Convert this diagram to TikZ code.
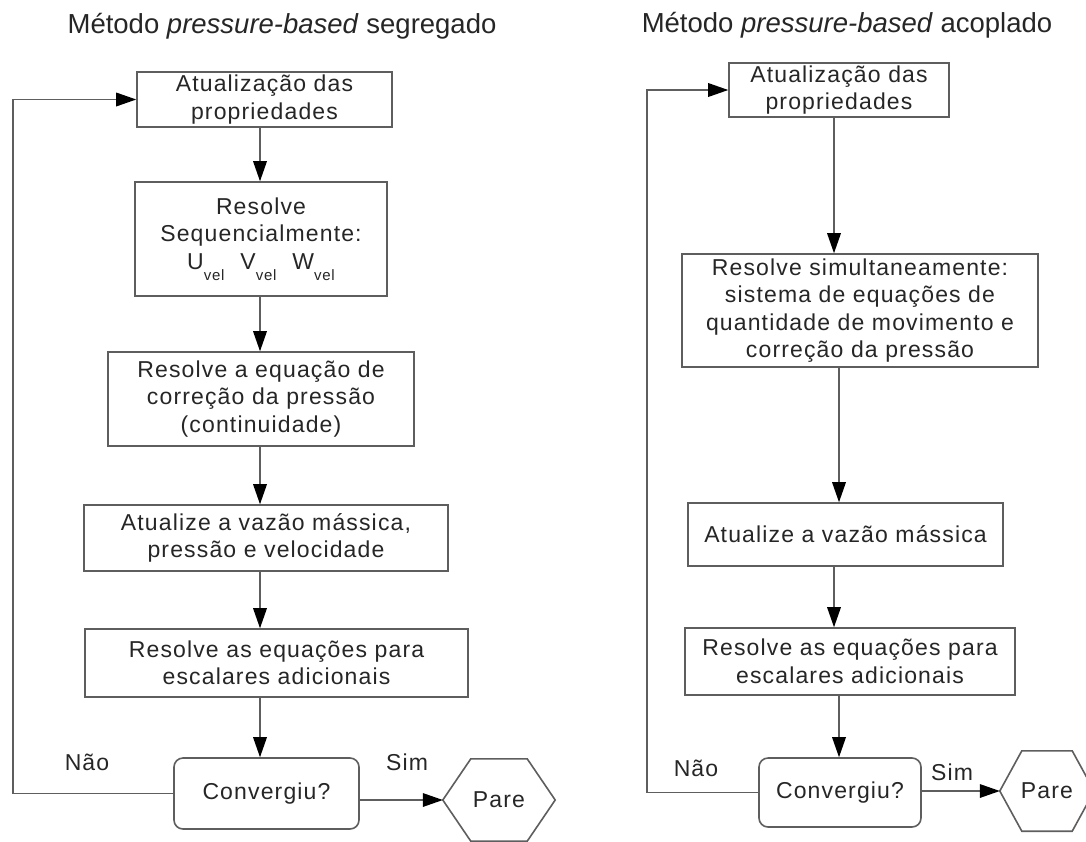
\documentclass[tikz,border=0pt]{standalone}
\usepackage{fontspec}
\setmainfont{Liberation Sans}
\newfontfamily\boxfont[LetterSpace=5]{Liberation Sans}
\usetikzlibrary{arrows.meta,calc}
\definecolor{linec}{HTML}{5E5E5E}
\definecolor{textc}{HTML}{262626}
\newcommand\velsub{\raisebox{-11pt}{\fontsize{15}{15}\selectfont vel}}
\begin{document}
\begin{tikzpicture}[x=1pt,y=-1pt,
  line/.style={draw=linec,line width=1.6pt},
  arr/.style={line,-{Triangle[length=20pt,width=14pt,fill=black,line width=0pt]}},
  box/.style={line,rectangle,inner sep=0pt,align=center,text=textc,
    font=\boxfont\fontsize{23}{27.5}\selectfont},
  conv/.style={box,rounded corners=9pt},
  hexa/.style={inner sep=0pt,text=textc,font=\boxfont\fontsize{23}{27.5}\selectfont},
  lbl/.style={inner sep=0pt,anchor=base,text=textc,font=\boxfont\fontsize{23}{27.5}\selectfont},
  ttl/.style={inner sep=0pt,anchor=base,text=textc,font=\fontsize{27.5}{30}\selectfont}]
\useasboundingbox (0,0) rectangle (1086,841);
\fill[white] (0,0) rectangle (1086,841);

% ---------- left: segregado ----------
\node[ttl] (tL) at (282,33) {Método \textit{pressure-based} segregado};
\node[box,minimum width=255pt,minimum height=55pt] (L1) at (264.5,99.5) {Atualização das\\propriedades};
\node[box,minimum width=252pt,minimum height=114pt] (L2) at (261,239) {Resolve\\Sequencialmente:\\U\velsub\hspace{16pt}V\velsub\hspace{16pt}W\velsub};
\node[box,minimum width=306pt,minimum height=94pt] (L3) at (261,399) {Resolve a equação de\\correção da pressão\\(continuidade)};
\node[box,minimum width=364pt,minimum height=66pt] (L4) at (266,538) {Atualize a vazão mássica,\\pressão e velocidade};
\node[box,minimum width=383pt,minimum height=68pt] (L5) at (276.5,663) {Resolve as equações para\\escalares adicionais};
\node[conv,minimum width=185pt,minimum height=71pt] (CL) at (266.5,793.5) {Convergiu?};
\node[hexa,minimum width=112pt,minimum height=82pt] (PL) at (499,800) {Pare};
\draw[line] (PL.west) -- ([xshift=28pt]PL.north west) -- ([xshift=-28pt]PL.north east)
  -- (PL.east) -- ([xshift=-28pt]PL.south east) -- ([xshift=28pt]PL.south west) -- cycle;
\node[lbl] (naoL) at (87,770) {Não};
\node[lbl] (simL) at (407,770) {Sim};

\coordinate (cL) at (260,0);
\coordinate (loopL) at (13,0);
\draw[arr] (L1.south -| cL) -- (L2.north -| cL);
\draw[arr] (L2.south -| cL) -- (L3.north -| cL);
\draw[arr] (L3.south -| cL) -- (L4.north -| cL);
\draw[arr] (L4.south -| cL) -- (L5.north -| cL);
\draw[arr] (L5.south -| cL) -- (CL.north -| cL);
\draw[arr] (CL.west) -- (CL.west -| loopL) -- (L1.west -| loopL) -- (L1.west);
\draw[arr] (CL.east |- PL.west) -- (PL.west);

% ---------- right: acoplado ----------
\node[ttl] (tR) at (847,32) {Método \textit{pressure-based} acoplado};
\node[box,minimum width=220pt,minimum height=54pt] (R1) at (839,90) {Atualização das\\propriedades};
\node[box,minimum width=356pt,minimum height=113pt] (R2) at (860,310.5) {Resolve simultaneamente:\\sistema de equações de\\quantidade de movimento e\\correção da pressão};
\node[box,minimum width=315pt,minimum height=63pt] (R3) at (845.5,534.5) {Atualize a vazão mássica};
\node[box,minimum width=330pt,minimum height=67pt] (R4) at (850,661.5) {Resolve as equações para\\escalares adicionais};
\node[conv,minimum width=162pt,minimum height=69pt] (CR) at (840,792.5) {Convergiu?};
\node[hexa,minimum width=94pt,minimum height=80pt] (PR) at (1047,791) {Pare};
\draw[line] (PR.west) -- ([xshift=22pt]PR.north west) -- ([xshift=-22pt]PR.north east)
  -- (PR.east) -- ([xshift=-22pt]PR.south east) -- ([xshift=22pt]PR.south west) -- cycle;
\node[lbl] (naoR) at (696,776) {Não};
\node[lbl] (simR) at (952,780) {Sim};

\coordinate (cR1) at (834,0);
\coordinate (cR2) at (839,0);
\coordinate (loopR) at (647,0);
\draw[arr] (R1.south -| cR1) -- (R2.north -| cR1);
\draw[arr] (R2.south -| cR2) -- (R3.north -| cR2);
\draw[arr] (R3.south -| cR1) -- (R4.north -| cR1);
\draw[arr] (R4.south -| cR2) -- (CR.north -| cR2);
\draw[arr] (CR.west) -- (CR.west -| loopR) -- (R1.west -| loopR) -- (R1.west);
\draw[arr] (CR.east |- PR.west) -- (PR.west);
\end{tikzpicture}
\end{document}
